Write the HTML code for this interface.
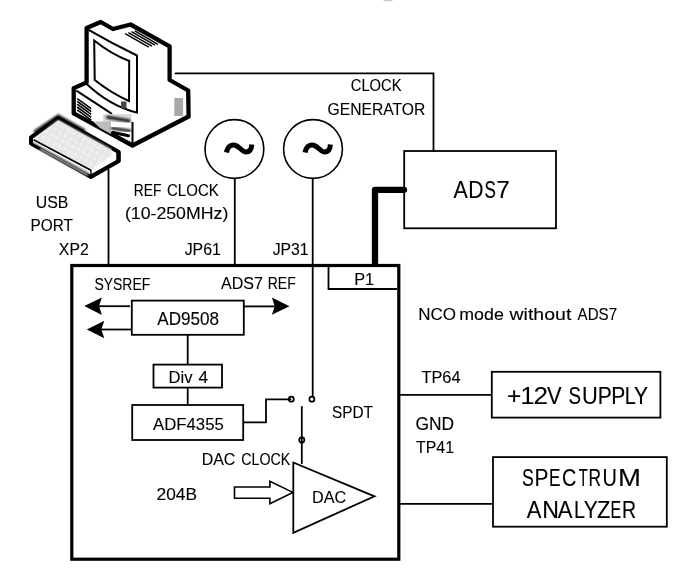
<!DOCTYPE html>
<html><head><meta charset="utf-8"><style>html,body{margin:0;padding:0;background:#fff;overflow:hidden}svg{display:block}</style></head>
<body><svg width="694" height="573" viewBox="0 0 694 573">
<rect width="694" height="573" fill="#fff"/>
<defs>
  <filter id="b1" x="-30%" y="-30%" width="160%" height="160%"><feGaussianBlur stdDeviation="0.9"/></filter>
  <filter id="b2" x="-30%" y="-30%" width="160%" height="160%"><feGaussianBlur stdDeviation="0.5"/></filter>
  <filter id="b3" x="-30%" y="-30%" width="160%" height="160%"><feGaussianBlur stdDeviation="1.2"/></filter>
  <pattern id="dots" x="0" y="0" width="6" height="6" patternUnits="userSpaceOnUse" patternTransform="rotate(29)">
    <rect width="6" height="6" fill="#e2e2e2"/>
    <rect x="1.2" y="1.2" width="3.4" height="3.4" fill="#f6f6f6"/>
  </pattern>
</defs>
<g id="computer">
  <path d="M86.6,28 L100.7,22 L113,29 L130.5,24.5 L169.6,46.3 L169.6,80 L188.2,90.5 L188.6,116.5 L132.5,145.5 L73.7,113.4 L73.7,88.1 L86.6,82.5 Z" fill="#fff" stroke="#000" stroke-width="4.3" stroke-linejoin="round"/>
  <g fill="none" stroke="#000" stroke-width="2">
    <path d="M88.6,29.9 Q112,43.5 137,55.5 L137,112.6 Q110,106 86.4,83.7"/>
    <path d="M94.2,40.5 Q111,54 129.2,61 L129,101 Q111,93 94.7,80 Z"/>
    <path d="M76.3,90.7 Q103,108 112,114"/>
    <path d="M132.5,122 L132.5,145"/>
  </g>
  <g fill="none" stroke="#000" stroke-width="1.6">
    <line x1="77.2" y1="98.6" x2="91.2" y2="108.6"/>
    <line x1="77.2" y1="101.4" x2="91.2" y2="111.5"/>
    <line x1="77.2" y1="104.2" x2="91.2" y2="114.4"/>
    <line x1="77.2" y1="107" x2="91.2" y2="117.3"/>
    <line x1="77.2" y1="109.8" x2="91.2" y2="120.2"/>
  </g>
  <g fill="none" stroke="#000" stroke-width="1.5">
    <line x1="125.2" y1="33.6" x2="148.8" y2="47.2"/>
    <line x1="128.4" y1="32.6" x2="151.9" y2="46.2"/>
    <line x1="131.5" y1="31.7" x2="155" y2="45.2"/>
    <line x1="134.7" y1="30.8" x2="158" y2="44.3"/>
  </g>
  <rect x="174.3" y="98" width="8.8" height="18" fill="#a8a8a8"/>
  <rect x="121" y="101.5" width="5.5" height="7" fill="#3f483f"/>
  <!-- drive area -->
  <rect x="103.2" y="114.1" width="28" height="8" fill="#d8d8d8" filter="url(#b2)"/>
  <path d="M106.4,117 L130.2,121" stroke="#111" stroke-width="3" filter="url(#b1)"/>
  <path d="M93,121.5 L111,121.5 L111,134 L100,128 Z" fill="#bdbdbd"/>
  <path d="M111,128 L131,131" stroke="#222" stroke-width="3" filter="url(#b1)"/>
  <path d="M113,132.5 L128.5,135.8" stroke="#000" stroke-width="3" stroke-linecap="round"/>
  <!-- keyboard -->
  <clipPath id="kbclip"><rect x="20" y="100" width="91.8" height="80"/></clipPath>
  <path d="M31,137.5 L58.2,118 L118.8,152 L118.8,161 L90.9,177 L31,143.5 Z" fill="#fff" stroke="#000" stroke-width="4" stroke-linejoin="round"/>
  <g clip-path="url(#kbclip)"><path d="M33.6,139.5 L58.1,120 L117,152.4 L90.9,169.9 Z" fill="url(#dots)" filter="url(#b1)"/></g>
  <path d="M34,132 L58.2,115.5 L85,130.5" fill="none" stroke="#000" stroke-width="2.2" filter="url(#b3)"/>
  <path d="M33.6,139.8 L90.9,170.2" fill="none" stroke="#000" stroke-width="1.8" filter="url(#b2)"/>
  <path d="M33,142.3 L89,172.8" fill="none" stroke="#aaa" stroke-width="1.4" filter="url(#b2)"/>
  <path d="M40,149 L88,175" fill="none" stroke="#bbb" stroke-width="2" filter="url(#b3)"/>
  <path d="M117,152.4 L117,160.7 L90.9,175.1 L90.9,169.9" fill="none" stroke="#000" stroke-width="1.4"/>
</g>

<ellipse cx="388" cy="-0.3" rx="5" ry="1.6" fill="#c8c8c8" filter="url(#b2)"/>
<g fill="none" stroke="#000" stroke-width="1.8">
  <!-- clock generator line -->
  <polyline points="175.5,73.4 433.5,73.4 433.5,151" stroke-linecap="round"/>
  <!-- usb -->
  <line x1="108.5" y1="169" x2="108.5" y2="265"/>
  <!-- circles -->
  <circle cx="234.4" cy="149" r="29.4" stroke-width="1.6"/>
  <circle cx="313" cy="149" r="29.4" stroke-width="1.6"/>
  <line x1="234.8" y1="178.4" x2="234.8" y2="265"/>
  <line x1="312.7" y1="178.4" x2="312.7" y2="396.5"/>
  <!-- ADS7 box -->
  <rect x="404.2" y="151" width="151.8" height="77.3"/>
  <!-- main box -->
  <rect x="71.8" y="265.5" width="327" height="293.7" stroke-width="3.2"/>
  <!-- P1 -->
  <polyline points="328.5,266 328.5,289 397,289"/>
  <!-- AD9508 -->
  <rect x="131.8" y="300.6" width="112" height="34.2"/>
  <line x1="187.7" y1="335" x2="187.7" y2="365"/>
  <rect x="153.5" y="364.6" width="68.5" height="23"/>
  <line x1="187.7" y1="387.6" x2="187.7" y2="405"/>
  <rect x="132.2" y="405" width="111" height="35"/>
  <!-- arrows lines -->
  <line x1="98" y1="306.2" x2="130" y2="306.2"/>
  <line x1="100" y1="329.5" x2="131" y2="329.5"/>
  <line x1="244" y1="306.4" x2="275" y2="306.4"/>
  <!-- switch -->
  <polyline points="243,422.4 266,422.4 266,399.3 291.3,399.3"/>
  <circle cx="291.3" cy="399.2" r="2.5" stroke-width="1.7"/>
  <circle cx="311.9" cy="399.2" r="2.5" stroke-width="1.7"/>
  <line x1="301.8" y1="406.2" x2="301.8" y2="464"/>
  <circle cx="301.8" cy="440" r="2.6" stroke-width="1.7"/>
  <!-- DAC -->
  <polygon points="293.3,462.5 374.5,496.3 293.3,532.8"/>
  <polygon points="234.5,487 269.9,487 269.9,481.2 292.9,492.4 269.9,503.8 269.9,498.2 234.5,498.2" stroke-width="1.6"/>
  <!-- right side -->
  <line x1="399" y1="394.8" x2="491.8" y2="394.8"/>
  <rect x="491.8" y="371.8" width="168.6" height="45.8"/>
  <line x1="399" y1="503.8" x2="493" y2="503.8"/>
  <rect x="493" y="457.1" width="173.8" height="69.6"/>
  <!-- thick P1 line -->
  <polyline points="375,265 375,189.8 404,189.8" stroke-width="6.3" stroke-linejoin="round" stroke-linecap="butt"/>
  <circle cx="404" cy="189.8" r="3.15" fill="#000" stroke="none"/>
</g>
<g fill="#000">
  <polygon points="84.3,305.9 101.9,297.4 99,305.9 101.9,315"/>
  <polygon points="86.8,329.5 104.3,320.8 101.3,329.5 104.3,338.3"/>
  <polygon points="289.5,306.2 271.9,297.6 274.7,306.2 271.9,314.8"/>
</g>
<g fill="none" stroke="#000" stroke-width="5" stroke-linecap="butt">
  <path d="M226.5,152.5 C227.5,146.5 231,144.3 235,145.2 C239.5,146.2 242,152 246,152 C249.5,152 251.5,149 251.8,144.5"/>
  <path d="M305.1,152.5 C306.1,146.5 309.6,144.3 313.6,145.2 C318.1,146.2 320.6,152 324.6,152 C328.1,152 330.1,149 330.4,144.5"/>
</g>
<g font-family="Liberation Sans, sans-serif" fill="#000" stroke="#000" stroke-width="0.12" style="will-change:transform">
<text x="350.75" y="91.10" font-size="16.42" textLength="50.71" lengthAdjust="spacingAndGlyphs">CLOCK</text>
<text x="327.52" y="114.50" font-size="16.42" textLength="97.79" lengthAdjust="spacingAndGlyphs">GENERATOR</text>
<text x="35.77" y="207.70" font-size="16.57" textLength="32.66" lengthAdjust="spacingAndGlyphs">USB</text>
<text x="30.55" y="231.20" font-size="16.57" textLength="42.40" lengthAdjust="spacingAndGlyphs">PORT</text>
<text x="58.84" y="254.60" font-size="16.57" textLength="29.95" lengthAdjust="spacingAndGlyphs">XP2</text>
<text x="133.86" y="196.10" font-size="16.42" textLength="27.69" lengthAdjust="spacingAndGlyphs">REF</text>
<text x="167.04" y="196.10" font-size="16.42" textLength="51.73" lengthAdjust="spacingAndGlyphs">CLOCK</text>
<text x="124.90" y="219.10" font-size="16.42" textLength="103.40" lengthAdjust="spacingAndGlyphs">(10-250MHz)</text>
<text x="184.65" y="255.10" font-size="16.86" textLength="36.22" lengthAdjust="spacingAndGlyphs">JP61</text>
<text x="272.65" y="255.10" font-size="16.86" textLength="36.02" lengthAdjust="spacingAndGlyphs">JP31</text>
<text x="94.47" y="289.60" font-size="16.57" textLength="55.79" lengthAdjust="spacingAndGlyphs">SYSREF</text>
<text x="221.07" y="289.40" font-size="16.57" textLength="41.94" lengthAdjust="spacingAndGlyphs">ADS7</text>
<text x="267.75" y="289.40" font-size="16.57" textLength="28.01" lengthAdjust="spacingAndGlyphs">REF</text>
<text x="354.16" y="284.70" font-size="16.86" textLength="20.04" lengthAdjust="spacingAndGlyphs">P1</text>
<text x="157.27" y="324.80" font-size="17.59" textLength="61.88" lengthAdjust="spacingAndGlyphs">AD9508</text>
<text x="418.30" y="319.60" font-size="16.28" textLength="37.81" lengthAdjust="spacingAndGlyphs">NCO</text>
<text x="459.32" y="319.60" font-size="16.28" textLength="44.47" lengthAdjust="spacingAndGlyphs">mode</text>
<text x="509.53" y="319.60" font-size="16.28" textLength="61.81" lengthAdjust="spacingAndGlyphs">without</text>
<text x="577.57" y="319.60" font-size="16.28" textLength="39.49" lengthAdjust="spacingAndGlyphs">ADS7</text>
<text x="168.54" y="382.70" font-size="16.57" textLength="24.02" lengthAdjust="spacingAndGlyphs">Div</text>
<text x="198.40" y="382.70" font-size="16.57" textLength="9.60" lengthAdjust="spacingAndGlyphs">4</text>
<text x="153.07" y="429.60" font-size="16.86" textLength="70.74" lengthAdjust="spacingAndGlyphs">ADF4355</text>
<text x="332.00" y="418.10" font-size="17.30" textLength="40.95" lengthAdjust="spacingAndGlyphs">SPDT</text>
<text x="421.53" y="383.10" font-size="16.86" textLength="38.94" lengthAdjust="spacingAndGlyphs">TP64</text>
<text x="415.53" y="430.30" font-size="17.59" textLength="38.61" lengthAdjust="spacingAndGlyphs">GND</text>
<text x="416.04" y="452.90" font-size="17.15" textLength="38.03" lengthAdjust="spacingAndGlyphs">TP41</text>
<text x="201.69" y="464.60" font-size="16.28" textLength="33.61" lengthAdjust="spacingAndGlyphs">DAC</text>
<text x="241.28" y="464.60" font-size="16.28" textLength="49.08" lengthAdjust="spacingAndGlyphs">CLOCK</text>
<text x="156.53" y="499.60" font-size="17.15" textLength="40.49" lengthAdjust="spacingAndGlyphs">204B</text>
<text x="311.97" y="503.40" font-size="16.86" textLength="34.25" lengthAdjust="spacingAndGlyphs">DAC</text>
<text transform="translate(453.60,198.00) scale(0.8984,1)" x="-0.05" y="0" font-size="23.84" stroke-width="0.134">A</text>
<text transform="translate(470.10,198.00) scale(0.8854,1)" x="-1.96" y="0" font-size="23.84" stroke-width="0.136">D</text>
<text transform="translate(485.30,198.00) scale(0.7141,1)" x="-1.08" y="0" font-size="23.84" stroke-width="0.168">S</text>
<text transform="translate(497.40,198.00) scale(1.0243,1)" x="-1.22" y="0" font-size="23.84" stroke-width="0.117">7</text>
<text transform="translate(508.10,403.80) scale(1.0532,1)" x="-1.14" y="0" font-size="23.26" stroke-width="0.114">+</text>
<text transform="translate(522.30,403.80) scale(1.0771,1)" x="-1.77" y="0" font-size="23.26" stroke-width="0.111">1</text>
<text transform="translate(534.90,403.80) scale(1.1232,1)" x="-1.17" y="0" font-size="23.26" stroke-width="0.107">2</text>
<text transform="translate(547.00,403.80) scale(0.9407,1)" x="-0.10" y="0" font-size="23.26" stroke-width="0.128">V</text>
<text transform="translate(569.30,403.80) scale(0.8067,1)" x="-1.06" y="0" font-size="23.26" stroke-width="0.149">S</text>
<text transform="translate(583.60,403.80) scale(0.9389,1)" x="-1.79" y="0" font-size="23.26" stroke-width="0.128">U</text>
<text transform="translate(599.50,403.80) scale(0.9049,1)" x="-1.91" y="0" font-size="23.26" stroke-width="0.133">P</text>
<text transform="translate(613.00,403.80) scale(0.9049,1)" x="-1.91" y="0" font-size="23.26" stroke-width="0.133">P</text>
<text transform="translate(626.40,403.80) scale(0.8582,1)" x="-1.91" y="0" font-size="23.26" stroke-width="0.140">L</text>
<text transform="translate(634.40,403.80) scale(0.9041,1)" x="-0.51" y="0" font-size="23.26" stroke-width="0.133">Y</text>
<text transform="translate(522.70,486.30) scale(0.7525,1)" x="-1.07" y="0" font-size="23.55" stroke-width="0.159">S</text>
<text transform="translate(536.10,486.30) scale(0.8857,1)" x="-1.93" y="0" font-size="23.55" stroke-width="0.135">P</text>
<text transform="translate(550.40,486.30) scale(0.7287,1)" x="-1.93" y="0" font-size="23.55" stroke-width="0.165">E</text>
<text transform="translate(562.90,486.30) scale(0.8382,1)" x="-1.20" y="0" font-size="23.55" stroke-width="0.143">C</text>
<text transform="translate(579.00,486.30) scale(0.6234,1)" x="-0.53" y="0" font-size="23.55" stroke-width="0.192">T</text>
<text transform="translate(589.90,486.30) scale(0.7367,1)" x="-1.93" y="0" font-size="23.55" stroke-width="0.163">R</text>
<text transform="translate(604.10,486.30) scale(0.8451,1)" x="-1.82" y="0" font-size="23.55" stroke-width="0.142">U</text>
<text transform="translate(620.30,486.30) scale(1.1681,1)" x="-1.93" y="0" font-size="23.55" stroke-width="0.103">M</text>
<text transform="translate(526.90,517.50) scale(0.9351,1)" x="-0.05" y="0" font-size="23.55" stroke-width="0.128">A</text>
<text transform="translate(544.10,517.50) scale(0.9808,1)" x="-1.93" y="0" font-size="23.55" stroke-width="0.122">N</text>
<text transform="translate(557.90,517.50) scale(0.9351,1)" x="-0.05" y="0" font-size="23.55" stroke-width="0.128">A</text>
<text transform="translate(575.50,517.50) scale(0.8380,1)" x="-1.93" y="0" font-size="23.55" stroke-width="0.143">L</text>
<text transform="translate(584.30,517.50) scale(0.8929,1)" x="-0.52" y="0" font-size="23.55" stroke-width="0.134">Y</text>
<text transform="translate(597.60,517.50) scale(0.9302,1)" x="-0.75" y="0" font-size="23.55" stroke-width="0.129">Z</text>
<text transform="translate(611.80,517.50) scale(0.6739,1)" x="-1.93" y="0" font-size="23.55" stroke-width="0.178">E</text>
<text transform="translate(623.50,517.50) scale(0.8297,1)" x="-1.93" y="0" font-size="23.55" stroke-width="0.145">R</text>
</g>
</svg></body></html>
